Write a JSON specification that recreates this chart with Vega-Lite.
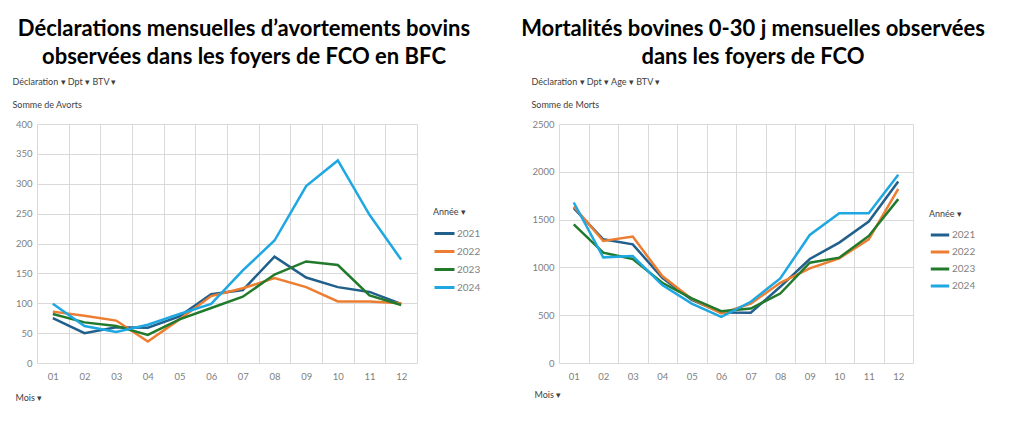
{
  "$schema": "https://vega.github.io/schema/vega-lite/v6.json",
  "background": "white",
  "padding": {"left": 12, "top": 18, "right": 5, "bottom": 5},
  "spacing": 40,
  "resolve": {"legend": {"color": "independent"}, "scale": {"color": "independent"}},
  "config": {
    "font": "Lato",
    "view": {"stroke": null},
    "axis": {
      "labelColor": "#808080",
      "labelFontSize": 9.5,
      "labelFont": "Lato",
      "grid": true,
      "gridColor": "#d9d9d9",
      "gridWidth": 1,
      "domain": false,
      "ticks": false,
      "titleFont": "Lato",
      "titleFontSize": 9,
      "titleColor": "#404040",
      "titleFontWeight": "normal"
    },
    "title": {
      "font": "Lato",
      "fontSize": 22,
      "fontWeight": "bold",
      "color": "#000000",
      "anchor": "middle",
      "lineHeight": 28,
      "offset": 8,
      "dx": 17
    },
    "legend": {
      "symbolType": "stroke",
      "symbolStrokeWidth": 3,
      "labelColor": "#7f7f7f",
      "labelFontSize": 10,
      "labelFont": "Lato",
      "labelOffset": 1,
      "titleFontSize": 9,
      "titleFontWeight": "normal",
      "titleColor": "#404040",
      "titleFont": "Lato",
      "rowPadding": 0
    }
  },
  "datasets": {
    "avorts": [
      {"mois": "01", "annee": "2021", "valeur": 75},
      {"mois": "02", "annee": "2021", "valeur": 50},
      {"mois": "03", "annee": "2021", "valeur": 60},
      {"mois": "04", "annee": "2021", "valeur": 59},
      {"mois": "05", "annee": "2021", "valeur": 78},
      {"mois": "06", "annee": "2021", "valeur": 115},
      {"mois": "07", "annee": "2021", "valeur": 122},
      {"mois": "08", "annee": "2021", "valeur": 178},
      {"mois": "09", "annee": "2021", "valeur": 143},
      {"mois": "10", "annee": "2021", "valeur": 127},
      {"mois": "11", "annee": "2021", "valeur": 119},
      {"mois": "12", "annee": "2021", "valeur": 99},
      {"mois": "01", "annee": "2022", "valeur": 86},
      {"mois": "02", "annee": "2022", "valeur": 79},
      {"mois": "03", "annee": "2022", "valeur": 71},
      {"mois": "04", "annee": "2022", "valeur": 36},
      {"mois": "05", "annee": "2022", "valeur": 73},
      {"mois": "06", "annee": "2022", "valeur": 112},
      {"mois": "07", "annee": "2022", "valeur": 125},
      {"mois": "08", "annee": "2022", "valeur": 142},
      {"mois": "09", "annee": "2022", "valeur": 127},
      {"mois": "10", "annee": "2022", "valeur": 103},
      {"mois": "11", "annee": "2022", "valeur": 103},
      {"mois": "12", "annee": "2022", "valeur": 100},
      {"mois": "01", "annee": "2023", "valeur": 82},
      {"mois": "02", "annee": "2023", "valeur": 68},
      {"mois": "03", "annee": "2023", "valeur": 62},
      {"mois": "04", "annee": "2023", "valeur": 47},
      {"mois": "05", "annee": "2023", "valeur": 73},
      {"mois": "06", "annee": "2023", "valeur": 92},
      {"mois": "07", "annee": "2023", "valeur": 111},
      {"mois": "08", "annee": "2023", "valeur": 148},
      {"mois": "09", "annee": "2023", "valeur": 170},
      {"mois": "10", "annee": "2023", "valeur": 164},
      {"mois": "11", "annee": "2023", "valeur": 113},
      {"mois": "12", "annee": "2023", "valeur": 97},
      {"mois": "01", "annee": "2024", "valeur": 99},
      {"mois": "02", "annee": "2024", "valeur": 62},
      {"mois": "03", "annee": "2024", "valeur": 52},
      {"mois": "04", "annee": "2024", "valeur": 64},
      {"mois": "05", "annee": "2024", "valeur": 82},
      {"mois": "06", "annee": "2024", "valeur": 99},
      {"mois": "07", "annee": "2024", "valeur": 155},
      {"mois": "08", "annee": "2024", "valeur": 205},
      {"mois": "09", "annee": "2024", "valeur": 296},
      {"mois": "10", "annee": "2024", "valeur": 339},
      {"mois": "11", "annee": "2024", "valeur": 248},
      {"mois": "12", "annee": "2024", "valeur": 173}
    ],
    "morts": [
      {"mois": "01", "annee": "2021", "valeur": 1619},
      {"mois": "02", "annee": "2021", "valeur": 1294},
      {"mois": "03", "annee": "2021", "valeur": 1241},
      {"mois": "04", "annee": "2021", "valeur": 892},
      {"mois": "05", "annee": "2021", "valeur": 660},
      {"mois": "06", "annee": "2021", "valeur": 528},
      {"mois": "07", "annee": "2021", "valeur": 525},
      {"mois": "08", "annee": "2021", "valeur": 797},
      {"mois": "09", "annee": "2021", "valeur": 1088},
      {"mois": "10", "annee": "2021", "valeur": 1259},
      {"mois": "11", "annee": "2021", "valeur": 1479},
      {"mois": "12", "annee": "2021", "valeur": 1899},
      {"mois": "01", "annee": "2022", "valeur": 1637},
      {"mois": "02", "annee": "2022", "valeur": 1276},
      {"mois": "03", "annee": "2022", "valeur": 1322},
      {"mois": "04", "annee": "2022", "valeur": 909},
      {"mois": "05", "annee": "2022", "valeur": 670},
      {"mois": "06", "annee": "2022", "valeur": 518},
      {"mois": "07", "annee": "2022", "valeur": 620},
      {"mois": "08", "annee": "2022", "valeur": 839},
      {"mois": "09", "annee": "2022", "valeur": 990},
      {"mois": "10", "annee": "2022", "valeur": 1095},
      {"mois": "11", "annee": "2022", "valeur": 1294},
      {"mois": "12", "annee": "2022", "valeur": 1822},
      {"mois": "01", "annee": "2023", "valeur": 1451},
      {"mois": "02", "annee": "2023", "valeur": 1154},
      {"mois": "03", "annee": "2023", "valeur": 1088},
      {"mois": "04", "annee": "2023", "valeur": 839},
      {"mois": "05", "annee": "2023", "valeur": 675},
      {"mois": "06", "annee": "2023", "valeur": 542},
      {"mois": "07", "annee": "2023", "valeur": 570},
      {"mois": "08", "annee": "2023", "valeur": 727},
      {"mois": "09", "annee": "2023", "valeur": 1049},
      {"mois": "10", "annee": "2023", "valeur": 1102},
      {"mois": "11", "annee": "2023", "valeur": 1329},
      {"mois": "12", "annee": "2023", "valeur": 1714},
      {"mois": "01", "annee": "2024", "valeur": 1679},
      {"mois": "02", "annee": "2024", "valeur": 1105},
      {"mois": "03", "annee": "2024", "valeur": 1119},
      {"mois": "04", "annee": "2024", "valeur": 815},
      {"mois": "05", "annee": "2024", "valeur": 622},
      {"mois": "06", "annee": "2024", "valeur": 483},
      {"mois": "07", "annee": "2024", "valeur": 640},
      {"mois": "08", "annee": "2024", "valeur": 885},
      {"mois": "09", "annee": "2024", "valeur": 1339},
      {"mois": "10", "annee": "2024", "valeur": 1567},
      {"mois": "11", "annee": "2024", "valeur": 1567},
      {"mois": "12", "annee": "2024", "valeur": 1969}
    ]
  },
  "hconcat": [
    {
      "width": 380,
      "height": 239,
      "data": {"name": "avorts"},
      "title": {"text": ["Déclarations mensuelles d’avortements bovins", "observées dans les foyers de FCO en BFC"]},
      "mark": {"type": "line", "strokeWidth": 2.5},
      "encoding": {
        "x": {
          "field": "mois", "type": "ordinal", "bandPosition": 0.5,
          "scale": {"type": "band", "paddingInner": 0, "paddingOuter": 0},
          "axis": {"tickBand": "extent", "labelAngle": 0, "labelPadding": 8, "title": "Mois ▾", "titleX": -22, "titleY": 34, "titleAlign": "left", "titleBaseline": "middle"}
        },
        "y": {
          "field": "valeur", "type": "quantitative",
          "scale": {"domain": [0, 400]},
          "axis": {"values": [0, 50, 100, 150, 200, 250, 300, 350, 400], "labelPadding": 5, "title": ["Déclaration ▾   Dpt ▾   BTV ▾", "Somme de Avorts"], "titleAngle": 0, "titleAlign": "left", "titleBaseline": "bottom", "titleX": -25, "titleY": -38, "titleLineHeight": 23}
        },
        "color": {
          "field": "annee", "type": "nominal",
          "scale": {"domain": ["2021", "2022", "2023", "2024"], "range": ["#215F8C", "#ED7D31", "#217A2B", "#1EA7E1"]},
          "legend": {"title": "Année ▾", "orient": "none", "legendX": 396, "legendY": 84, "symbolSize": 400}
        }
      }
    },
    {
      "width": 354,
      "height": 239,
      "data": {"name": "morts"},
      "title": {"text": ["Mortalités bovines 0-30 j mensuelles observées", "dans les foyers de FCO"]},
      "mark": {"type": "line", "strokeWidth": 2.5},
      "encoding": {
        "x": {
          "field": "mois", "type": "ordinal", "bandPosition": 0.5,
          "scale": {"type": "band", "paddingInner": 0, "paddingOuter": 0},
          "axis": {"tickBand": "extent", "labelAngle": 0, "labelPadding": 8, "title": "Mois ▾", "titleX": -25, "titleY": 31, "titleAlign": "left", "titleBaseline": "middle"}
        },
        "y": {
          "field": "valeur", "type": "quantitative",
          "scale": {"domain": [0, 2500]},
          "axis": {"values": [0, 500, 1000, 1500, 2000, 2500], "format": "d", "labelPadding": 5, "title": ["Déclaration ▾  Dpt ▾  Age ▾  BTV ▾", "Somme  de Morts"], "titleAngle": 0, "titleAlign": "left", "titleBaseline": "bottom", "titleX": -28, "titleY": -38, "titleLineHeight": 23}
        },
        "color": {
          "field": "annee", "type": "nominal",
          "scale": {"domain": ["2021", "2022", "2023", "2024"], "range": ["#215F8C", "#ED7D31", "#217A2B", "#1EA7E1"]},
          "legend": {"title": "Année ▾", "orient": "none", "legendX": 370, "legendY": 86, "symbolSize": 340}
        }
      }
    }
  ]
}
